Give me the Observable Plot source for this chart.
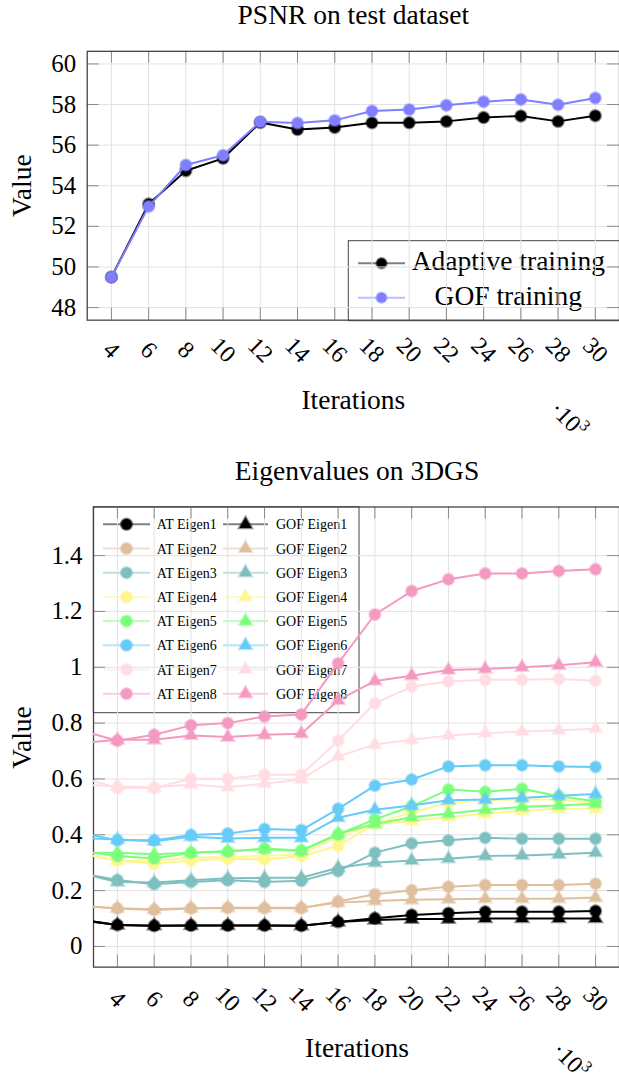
<!DOCTYPE html>
<html><head><meta charset="utf-8">
<script src="https://cdn.jsdelivr.net/npm/d3@7"></script>
<script src="https://cdn.jsdelivr.net/npm/@observablehq/plot@0.6"></script>
<style>
body{margin:0;background:#fff;}
#wrap{position:relative;width:619px;height:1082px;overflow:hidden;font-family:"Liberation Serif",serif;}
.layer{position:absolute;left:0;}
</style></head><body><div id="wrap"></div>
<script>
// ---------- data ----------
const iterations = [4,6,8,10,12,14,16,18,20,22,24,26,28,30];
const xTickLabels = ["4","6","8","10","12","14","16","18","20","22","24","26","28","30"];
const psnrAdaptive = [49.5, 53.1, 54.74, 55.35, 57.11, 56.77, 56.87, 57.1, 57.1, 57.17, 57.36, 57.44, 57.17, 57.45];
const psnrGOF = [49.5, 52.98, 55.02, 55.5, 57.15, 57.09, 57.22, 57.68, 57.75, 57.96, 58.14, 58.25, 57.99, 58.32];
const psnrYTicks = [48,50,52,54,56,58,60];
const psnrYTickLabels = ["48","50","52","54","56","58","60"];
const psnrSeriesNames = ["Adaptive training","GOF training"];
const psnrColors = ["#000000","#7f7fff"];

const eigenIterations = [2,4,6,8,10,12,14,16,18,20,22,24,26,28,30];
const eigenYTicks = [0,0.2,0.4,0.6,0.8,1,1.2,1.4];
const eigenYTickLabels = ["0","0.2","0.4","0.6","0.8","1","1.2","1.4"];
const atEigen1 = [0.095,0.077,0.074,0.075,0.075,0.075,0.074,0.088,0.101,0.113,0.119,0.124,0.124,0.124,0.127];
const gofEigen1 = [0.095,0.077,0.074,0.075,0.075,0.075,0.074,0.088,0.095,0.098,0.098,0.100,0.100,0.100,0.100];
const atEigen2 = [0.145,0.136,0.131,0.136,0.138,0.137,0.137,0.161,0.187,0.201,0.214,0.220,0.220,0.220,0.225];
const gofEigen2 = [0.145,0.137,0.133,0.137,0.139,0.139,0.139,0.157,0.163,0.167,0.169,0.171,0.171,0.171,0.175];
const atEigen3 = [0.262,0.238,0.223,0.231,0.237,0.231,0.235,0.270,0.336,0.369,0.380,0.389,0.386,0.386,0.386];
const gofEigen3 = [0.262,0.231,0.229,0.237,0.244,0.246,0.246,0.282,0.300,0.308,0.314,0.324,0.326,0.330,0.336];
const atEigen4 = [0.334,0.308,0.296,0.308,0.314,0.312,0.324,0.360,0.439,0.481,0.514,0.524,0.526,0.526,0.514];
const gofEigen4 = [0.334,0.306,0.306,0.318,0.320,0.324,0.330,0.395,0.437,0.449,0.463,0.476,0.485,0.493,0.493];
const atEigen5 = [0.342,0.324,0.315,0.336,0.339,0.351,0.344,0.401,0.455,0.502,0.562,0.554,0.565,0.538,0.520];
const gofEigen5 = [0.336,0.336,0.330,0.336,0.342,0.348,0.342,0.404,0.439,0.463,0.476,0.490,0.500,0.505,0.511];
const atEigen6 = [0.408,0.380,0.380,0.399,0.405,0.421,0.417,0.493,0.576,0.598,0.645,0.649,0.649,0.645,0.643];
const gofEigen6 = [0.388,0.383,0.377,0.393,0.387,0.389,0.389,0.461,0.490,0.505,0.524,0.526,0.532,0.540,0.546];
const atEigen7 = [0.605,0.568,0.568,0.601,0.601,0.615,0.615,0.737,0.871,0.931,0.949,0.955,0.955,0.958,0.952];
const gofEigen7 = [0.579,0.574,0.570,0.580,0.570,0.583,0.598,0.681,0.723,0.740,0.756,0.764,0.770,0.774,0.780];
const atEigen8 = [0.774,0.737,0.758,0.792,0.800,0.824,0.831,1.014,1.189,1.273,1.315,1.336,1.336,1.345,1.351];
const gofEigen8 = [0.728,0.740,0.740,0.756,0.750,0.758,0.762,0.881,0.951,0.970,0.990,0.994,1.000,1.007,1.018];
const eigenNames = ["Eigen1","Eigen2","Eigen3","Eigen4","Eigen5","Eigen6","Eigen7","Eigen8"];
const eigenColors = ["#000000","#e0bf9f","#7fbfbf","#fff68f","#7bff7b","#66ccf7","#ffdde2","#f49ac1"];

// ---------- helpers ----------
const FONT = '"Liberation Serif", "Times New Roman", serif';
const gridColor = "#e2e2e2", tickColor = "#8a8a8a", frameColor = "#444";
const wrap = document.getElementById("wrap");

function frameMarks(xTicks, yTicks, fw, fh) {
  return [
    Plot.ruleX(xTicks, {x: d => d, stroke: gridColor, strokeWidth: 1}),
    Plot.ruleY(yTicks, {y: d => d, stroke: gridColor, strokeWidth: 1}),
    Plot.ruleX(xTicks, {x: d => d, insetTop: fh - 12, stroke: tickColor}),
    Plot.ruleX(xTicks, {x: d => d, insetBottom: fh - 12, stroke: tickColor}),
    Plot.ruleY(yTicks, {y: d => d, insetRight: fw - 12, stroke: tickColor}),
    Plot.ruleY(yTicks, {y: d => d, insetLeft: fw - 12, stroke: tickColor}),
    Plot.frame({stroke: frameColor, strokeWidth: 1.3})
  ];
}
function seriesMarks(xs, ys, color, symbol, r, clip) {
  const data = xs.map((x, i) => ({x, y: ys[i]}));
  return [
    Plot.line(data, {x: "x", y: "y", stroke: color, strokeWidth: 2, clip}),
    Plot.dot(data, {x: "x", y: "y", r, symbol, fill: color, stroke: color, strokeOpacity: 0.45, strokeWidth: 2.5, clip})
  ];
}
function place(el, top) {
  const d = document.createElement("div");
  d.className = "layer"; d.style.top = top + "px"; d.style.zIndex = 2;
  d.appendChild(el); wrap.appendChild(d);
}

// ---------- panel 1 ----------
const W = 621;
{
  const H = 440, mT = 51, mB = H - 320.7, mL = 87, mR = 0;
  const fw = W - mL - mR, fh = H - mT - mB;
  const p = Plot.plot({
    width: W, height: H, marginTop: mT, marginBottom: mB, marginLeft: mL, marginRight: mR,
    style: {background: "transparent", fontFamily: FONT, overflow: "visible"},
    x: {domain: [2.7, 31.3], axis: null},
    y: {domain: [47.38, 60.62], axis: null},
    marks: [
      ...frameMarks(iterations, psnrYTicks, fw, fh),
      Plot.text(psnrYTicks, {y: d => d, text: (d, i) => psnrYTickLabels[i], frameAnchor: "left", dx: -11, textAnchor: "end", fontSize: 25, fill: "#000"}),
      Plot.text(iterations, {x: d => d, text: (d, i) => xTickLabels[i], frameAnchor: "bottom", dy: 30, rotate: 45, fontSize: 24, fill: "#000", lineAnchor: "middle"}),
      ...seriesMarks(iterations, psnrAdaptive, psnrColors[0], "circle", 5.5, false),
      ...seriesMarks(iterations, psnrGOF, psnrColors[1], "circle", 5.5, false)
    ]
  });
  place(p, 0);
}

// ---------- panel 2 ----------
{
  const top = 450, H = 632, mT = 506.7 - top, mB = H - (968.3 - top), mL = 93.3, mR = 0;
  const fw = W - mL - mR, fh = H - mT - mB;
  const at = [atEigen1, atEigen2, atEigen3, atEigen4, atEigen5, atEigen6, atEigen7, atEigen8];
  const gof = [gofEigen1, gofEigen2, gofEigen3, gofEigen4, gofEigen5, gofEigen6, gofEigen7, gofEigen8];
  const series = [];
  for (let k = 0; k < 8; k++) {
    series.push(...seriesMarks(eigenIterations, at[k], eigenColors[k], "circle", 5.5, true));
    series.push(...seriesMarks(eigenIterations, gof[k], eigenColors[k], "triangle", 4.6, true));
  }
  const p = Plot.plot({
    width: W, height: H, marginTop: mT, marginBottom: mB, marginLeft: mL, marginRight: mR,
    style: {background: "transparent", fontFamily: FONT, overflow: "visible"},
    x: {domain: [2.7, 31.3], axis: null},
    y: {domain: [-0.074, 1.574], axis: null},
    marks: [
      ...frameMarks(iterations, eigenYTicks, fw, fh),
      Plot.text(eigenYTicks, {y: d => d, text: (d, i) => eigenYTickLabels[i], frameAnchor: "left", dx: -11, textAnchor: "end", fontSize: 25, fill: "#000"}),
      Plot.text(iterations, {x: d => d, text: (d, i) => xTickLabels[i], frameAnchor: "bottom", dy: 32, rotate: 45, fontSize: 24, fill: "#000", lineAnchor: "middle"}),
      ...series
    ]
  });
  place(p, top);
}

// ---------- overlay: titles, labels, legends ----------
const ov = d3.select(wrap).append("svg")
  .attr("width", 619).attr("height", 1082)
  .style("position", "absolute").style("left", 0).style("top", 0).style("z-index", 1)
  .style("font-family", FONT);

function txt(x, y, s, size, anchor = "middle", rot = 0) {
  return ov.append("text").attr("transform", `translate(${x},${y}) rotate(${rot})`)
    .attr("text-anchor", anchor).attr("font-size", size).attr("fill", "#000").text(s);
}
txt(353.3, 24, "PSNR on test dataset", 27.5);
txt(357, 480, "Eigenvalues on 3DGS", 27.5);
txt(31, 185.7, "Value", 27.5, "middle", -90);
txt(31, 737.5, "Value", 27.5, "middle", -90);
txt(353.3, 409, "Iterations", 27.5);
txt(357, 1057, "Iterations", 27.5);
function times(x, y) {
  const t = ov.append("text").attr("transform", `translate(${x},${y}) rotate(45)`)
    .attr("text-anchor", "middle").attr("font-size", 24).attr("fill", "#000");
  t.append("tspan").text("·10");
  t.append("tspan").attr("font-size", 16).attr("dy", -10).text("3");
}
times(563, 425);
times(565, 1066);

function swatch(x1, x2, y, color, symbol, r) {
  ov.append("line").attr("x1", x1).attr("x2", x2).attr("y1", y).attr("y2", y)
    .attr("stroke", color).attr("stroke-width", 2).attr("stroke-opacity", 0.5);
  const cx = (x1 + x2) / 2;
  ov.append("path").attr("transform", `translate(${cx},${y})`)
    .attr("d", d3.symbol(symbol === "circle" ? d3.symbolCircle : d3.symbolTriangle, Math.PI * r * r)())
    .attr("fill", color).attr("stroke", color).attr("stroke-opacity", 0.45).attr("stroke-width", 2.5);
}
// top legend
ov.append("rect").attr("x", 348.3).attr("y", 240.7).attr("width", 300).attr("height", 80)
  .attr("fill", "none").attr("stroke", frameColor).attr("stroke-width", 1);
[263.3, 297.7].forEach((y, i) => {
  swatch(358, 405, y, psnrColors[i], "circle", 5);
  txt(508.3, y + 7, psnrSeriesNames[i], 27.5);
});
// bottom legend
ov.append("rect").attr("x", 93.3).attr("y", 506.7).attr("width", 265.7).attr("height", 206)
  .attr("fill", "none").attr("stroke", frameColor).attr("stroke-width", 1);
eigenNames.forEach((n, i) => {
  const y = 524.3 + i * 24.2;
  swatch(103, 150, y, eigenColors[i], "circle", 5.5);
  txt(156.7, y + 5, "AT " + n, 14, "start");
  swatch(223, 268, y, eigenColors[i], "triangle", 4.6);
  txt(276, y + 5, "GOF " + n, 14, "start");
});
</script></body></html>
